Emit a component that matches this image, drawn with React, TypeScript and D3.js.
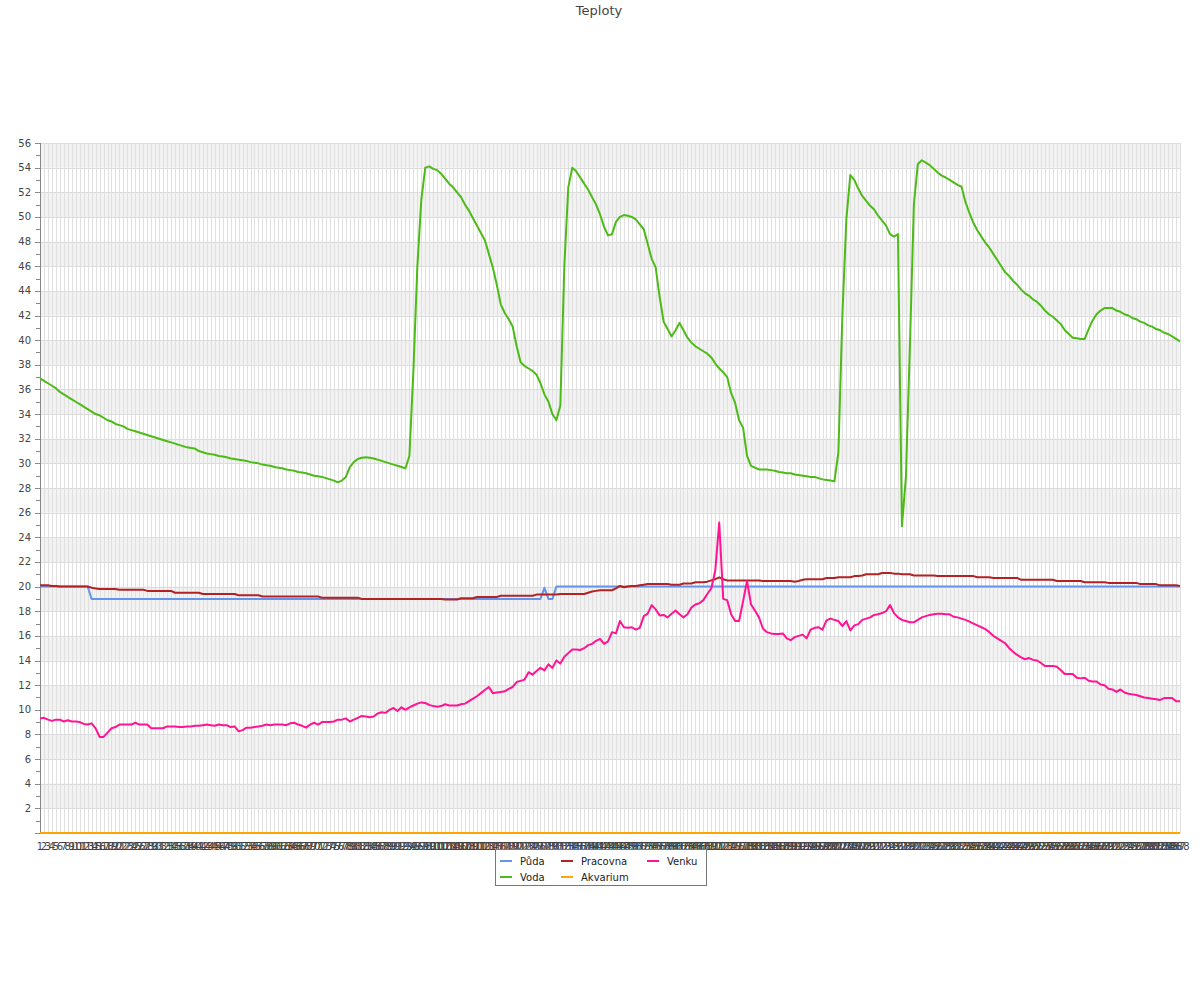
import React from 'react';
import * as d3 from 'd3';

const title = 'Teploty';
const seriesNames = ['Půda', 'Voda', 'Pracovna', 'Akvarium', 'Venku'];
const seriesColors = ['#6495ED', '#4CBB17', '#B22222', '#FFA500', '#FF1493'];
const categories = d3.range(1, 289).map(String);
const yTicks = d3.range(0, 57, 1);

const puda = [
  20, 20, 20, 20, 20, 20, 20, 20, 20, 20,
  20, 20, 20, 19, 19, 19, 19, 19, 19, 19,
  19, 19, 19, 19, 19, 19, 19, 19, 19, 19,
  19, 19, 19, 19, 19, 19, 19, 19, 19, 19,
  19, 19, 19, 19, 19, 19, 19, 19, 19, 19,
  19, 19, 19, 19, 19, 19, 19, 19, 19, 19,
  19, 19, 19, 19, 19, 19, 19, 19, 19, 19,
  19, 19, 19, 19, 19, 19, 19, 19, 19, 19,
  19, 19, 19, 19, 19, 19, 19, 19, 19, 19,
  19, 19, 19, 19, 19, 19, 19, 19, 19, 19,
  19, 19, 19, 19, 19, 19, 19, 19, 19, 19,
  19, 19, 19, 19, 19, 19, 19, 19, 19, 19,
  19, 19, 19, 19, 19, 19, 19, 19.9, 19, 19,
  20, 20, 20, 20, 20, 20, 20, 20, 20, 20,
  20, 20, 20, 20, 20, 20, 20, 20, 20, 20,
  20, 20, 20, 20, 20, 20, 20, 20, 20, 20,
  20, 20, 20, 20, 20, 20, 20, 20, 20, 20,
  20, 20, 20, 20, 20, 20, 20, 20, 20, 20,
  20, 20, 20, 20, 20, 20, 20, 20, 20, 20,
  20, 20, 20, 20, 20, 20, 20, 20, 20, 20,
  20, 20, 20, 20, 20, 20, 20, 20, 20, 20,
  20, 20, 20, 20, 20, 20, 20, 20, 20, 20,
  20, 20, 20, 20, 20, 20, 20, 20, 20, 20,
  20, 20, 20, 20, 20, 20, 20, 20, 20, 20,
  20, 20, 20, 20, 20, 20, 20, 20, 20, 20,
  20, 20, 20, 20, 20, 20, 20, 20, 20, 20,
  20, 20, 20, 20, 20, 20, 20, 20, 20, 20,
  20, 20, 20, 20, 20, 20, 20, 20, 20, 20,
  20, 20, 20, 20, 20, 20, 20, 20,
];

const voda = [
  36.9, 36.7, 36.5, 36.3, 36.1, 35.8, 35.6, 35.4, 35.2, 35.0,
  34.8, 34.6, 34.4, 34.2, 34.0, 33.9, 33.7, 33.5, 33.4, 33.2,
  33.1, 33.0, 32.8, 32.7, 32.6, 32.5, 32.4, 32.3, 32.2, 32.1,
  32.0, 31.9, 31.8, 31.7, 31.6, 31.5, 31.4, 31.3, 31.25, 31.2,
  31.0, 30.9, 30.8, 30.75, 30.7, 30.6, 30.55, 30.5, 30.4, 30.35,
  30.3, 30.25, 30.2, 30.1, 30.05, 30.0, 29.9, 29.85, 29.8, 29.7,
  29.65, 29.6, 29.5, 29.45, 29.4, 29.3, 29.25, 29.2, 29.1, 29.0,
  28.95, 28.9, 28.8, 28.7, 28.6, 28.45, 28.6, 28.9, 29.7, 30.1,
  30.35, 30.45, 30.5, 30.45, 30.4, 30.3, 30.2, 30.1, 30.0, 29.9,
  29.8, 29.7, 29.6, 30.6, 37.5, 46.0, 51.4, 54.0, 54.1, 53.9,
  53.8, 53.5, 53.1, 52.7, 52.4, 52.0, 51.6, 51.0, 50.5, 49.9,
  49.3, 48.7, 48.1, 47.0, 45.9, 44.5, 42.9, 42.2, 41.7, 41.1,
  39.5, 38.2, 37.9, 37.7, 37.5, 37.2, 36.5, 35.6, 35.0, 34.0,
  33.5, 34.7, 46.0, 52.4, 54.0, 53.7, 53.2, 52.7, 52.2, 51.6,
  51.0, 50.2, 49.2, 48.5, 48.6, 49.6, 50.0, 50.15, 50.1, 50.0,
  49.8, 49.4, 49.0, 47.8, 46.6, 45.9, 43.5, 41.5, 40.9, 40.3,
  40.8, 41.4, 40.8, 40.2, 39.8, 39.5, 39.3, 39.1, 38.9, 38.6,
  38.1, 37.7, 37.4, 37.0, 35.7, 34.9, 33.5, 32.9, 30.6, 29.8,
  29.65, 29.5, 29.5, 29.5, 29.45, 29.4, 29.3, 29.25, 29.2, 29.2,
  29.1, 29.05, 29.0, 28.95, 28.9, 28.9, 28.8, 28.7, 28.65, 28.6,
  28.55, 30.9, 42.0, 49.8, 53.4, 53.0, 52.3, 51.7, 51.3, 50.9,
  50.6, 50.1, 49.7, 49.3, 48.6, 48.4, 48.6, 24.9, 28.9, 39.5,
  51.0, 54.3, 54.6, 54.4, 54.2, 53.9, 53.6, 53.35, 53.2, 53.0,
  52.8, 52.6, 52.45, 51.2, 50.3, 49.5, 48.9, 48.4, 47.9, 47.5,
  47.0, 46.5, 46.0, 45.5, 45.2, 44.8, 44.5, 44.1, 43.8, 43.6,
  43.3, 43.1, 42.8, 42.4, 42.1, 41.9, 41.6, 41.3, 40.8, 40.5,
  40.2, 40.15, 40.1, 40.1, 40.9, 41.6, 42.1, 42.4, 42.6, 42.6,
  42.6, 42.4, 42.3, 42.1, 42.0, 41.8, 41.7, 41.5, 41.4, 41.2,
  41.1, 40.9, 40.8, 40.6, 40.5, 40.3, 40.1, 39.9,
];

const pracovna = [
  20.1, 20.1, 20.1, 20.05, 20.05, 20.0, 20.0, 20.0, 20.0, 20.0,
  20.0, 20.0, 20.0, 19.9, 19.85, 19.8, 19.8, 19.8, 19.8, 19.8,
  19.75, 19.75, 19.75, 19.75, 19.75, 19.75, 19.75, 19.65, 19.65, 19.65,
  19.65, 19.65, 19.65, 19.65, 19.5, 19.5, 19.5, 19.5, 19.5, 19.5,
  19.5, 19.4, 19.4, 19.4, 19.4, 19.4, 19.4, 19.4, 19.4, 19.4,
  19.3, 19.3, 19.3, 19.3, 19.3, 19.3, 19.2, 19.2, 19.2, 19.2,
  19.2, 19.2, 19.2, 19.2, 19.2, 19.2, 19.2, 19.2, 19.2, 19.2,
  19.2, 19.1, 19.1, 19.1, 19.1, 19.1, 19.1, 19.1, 19.1, 19.1,
  19.1, 19.0, 19.0, 19.0, 19.0, 19.0, 19.0, 19.0, 19.0, 19.0,
  19.0, 19.0, 19.0, 19.0, 19.0, 19.0, 19.0, 19.0, 19.0, 19.0,
  19.0, 19.0, 18.95, 18.95, 18.95, 18.95, 19.05, 19.05, 19.05, 19.05,
  19.15, 19.15, 19.15, 19.15, 19.15, 19.15, 19.25, 19.25, 19.25, 19.25,
  19.25, 19.25, 19.25, 19.25, 19.25, 19.35, 19.35, 19.35, 19.35, 19.35,
  19.35, 19.4, 19.4, 19.4, 19.4, 19.4, 19.4, 19.4, 19.5, 19.6,
  19.65, 19.7, 19.7, 19.7, 19.7, 19.85, 20.05, 19.95, 20.0, 20.05,
  20.05, 20.1, 20.15, 20.2, 20.2, 20.2, 20.2, 20.2, 20.2, 20.15,
  20.15, 20.15, 20.25, 20.25, 20.25, 20.35, 20.35, 20.35, 20.4, 20.5,
  20.6, 20.75, 20.6, 20.5, 20.5, 20.5, 20.5, 20.5, 20.5, 20.5,
  20.5, 20.5, 20.45, 20.45, 20.45, 20.45, 20.45, 20.45, 20.45, 20.45,
  20.4, 20.45, 20.55, 20.6, 20.6, 20.6, 20.6, 20.6, 20.7, 20.7,
  20.7, 20.75, 20.75, 20.75, 20.75, 20.85, 20.85, 20.9, 21.0, 21.0,
  21.0, 21.0, 21.1, 21.1, 21.1, 21.05, 21.05, 21.0, 21.0, 21.0,
  20.9, 20.9, 20.9, 20.9, 20.9, 20.9, 20.85, 20.85, 20.85, 20.85,
  20.85, 20.85, 20.85, 20.85, 20.85, 20.85, 20.75, 20.75, 20.75, 20.75,
  20.7, 20.7, 20.7, 20.7, 20.7, 20.7, 20.7, 20.55, 20.55, 20.55,
  20.55, 20.55, 20.55, 20.55, 20.55, 20.55, 20.45, 20.45, 20.45, 20.45,
  20.45, 20.45, 20.45, 20.35, 20.35, 20.35, 20.35, 20.35, 20.35, 20.3,
  20.3, 20.3, 20.3, 20.3, 20.3, 20.3, 20.3, 20.2, 20.2, 20.2,
  20.2, 20.2, 20.1, 20.1, 20.1, 20.1, 20.1, 20.05,
];

const akvarium = [
  0, 0, 0, 0, 0, 0, 0, 0, 0, 0, 0, 0, 0, 0, 0, 0, 0, 0, 0, 0, 0, 0, 0, 0,
  0, 0, 0, 0, 0, 0, 0, 0, 0, 0, 0, 0, 0, 0, 0, 0, 0, 0, 0, 0, 0, 0, 0, 0,
  0, 0, 0, 0, 0, 0, 0, 0, 0, 0, 0, 0, 0, 0, 0, 0, 0, 0, 0, 0, 0, 0, 0, 0,
  0, 0, 0, 0, 0, 0, 0, 0, 0, 0, 0, 0, 0, 0, 0, 0, 0, 0, 0, 0, 0, 0, 0, 0,
  0, 0, 0, 0, 0, 0, 0, 0, 0, 0, 0, 0, 0, 0, 0, 0, 0, 0, 0, 0, 0, 0, 0, 0,
  0, 0, 0, 0, 0, 0, 0, 0, 0, 0, 0, 0, 0, 0, 0, 0, 0, 0, 0, 0, 0, 0, 0, 0,
  0, 0, 0, 0, 0, 0, 0, 0, 0, 0, 0, 0, 0, 0, 0, 0, 0, 0, 0, 0, 0, 0, 0, 0,
  0, 0, 0, 0, 0, 0, 0, 0, 0, 0, 0, 0, 0, 0, 0, 0, 0, 0, 0, 0, 0, 0, 0, 0,
  0, 0, 0, 0, 0, 0, 0, 0, 0, 0, 0, 0, 0, 0, 0, 0, 0, 0, 0, 0, 0, 0, 0, 0,
  0, 0, 0, 0, 0, 0, 0, 0, 0, 0, 0, 0, 0, 0, 0, 0, 0, 0, 0, 0, 0, 0, 0, 0,
  0, 0, 0, 0, 0, 0, 0, 0, 0, 0, 0, 0, 0, 0, 0, 0, 0, 0, 0, 0, 0, 0, 0, 0,
  0, 0, 0, 0, 0, 0, 0, 0, 0, 0, 0, 0, 0, 0, 0, 0, 0, 0, 0, 0, 0, 0, 0, 0,
];

const venku = [
  9.3, 9.35, 9.2, 9.1, 9.2, 9.2, 9.05, 9.15, 9.05, 9.05,
  9.0, 8.85, 8.8, 8.9, 8.5, 7.8, 7.8, 8.15, 8.5, 8.6,
  8.8, 8.8, 8.8, 8.8, 8.95, 8.8, 8.8, 8.8, 8.5, 8.5,
  8.5, 8.5, 8.65, 8.65, 8.65, 8.6, 8.6, 8.65, 8.65, 8.7,
  8.7, 8.75, 8.8, 8.75, 8.7, 8.8, 8.75, 8.75, 8.6, 8.65,
  8.25, 8.35, 8.55, 8.55, 8.6, 8.65, 8.7, 8.8, 8.75, 8.8,
  8.8, 8.8, 8.75, 8.9, 8.95, 8.8, 8.7, 8.55, 8.8, 8.95,
  8.8, 9.0, 9.0, 9.0, 9.05, 9.2, 9.2, 9.3, 9.05, 9.2,
  9.35, 9.5, 9.45, 9.4, 9.45, 9.7, 9.8, 9.75, 10.0, 10.15,
  9.9, 10.2, 10.0, 10.2, 10.35, 10.5, 10.6, 10.55, 10.4, 10.3,
  10.25, 10.3, 10.45, 10.35, 10.35, 10.35, 10.45, 10.5, 10.7, 10.9,
  11.1, 11.35, 11.6, 11.85, 11.35, 11.4, 11.45, 11.5, 11.7, 11.85,
  12.25, 12.35, 12.45, 13.05, 12.85, 13.15, 13.4, 13.2, 13.7, 13.4,
  14.0, 13.75, 14.3, 14.6, 14.9, 14.9, 14.85, 15.0, 15.25, 15.35,
  15.6, 15.75, 15.35, 15.55, 16.3, 16.2, 17.2, 16.7, 16.65, 16.7,
  16.5, 16.65, 17.6, 17.8, 18.5, 18.15, 17.65, 17.7, 17.5, 17.8,
  18.05, 17.75, 17.5, 17.75, 18.3, 18.55, 18.65, 18.9, 19.4, 19.85,
  21.3, 25.2, 19.0, 18.9, 17.75, 17.2, 17.2, 18.8, 20.45, 18.55,
  18.05, 17.5, 16.6, 16.3, 16.2, 16.15, 16.15, 16.2, 15.8, 15.65,
  15.9, 16.0, 16.1, 15.8, 16.5, 16.65, 16.7, 16.5, 17.25, 17.4,
  17.3, 17.2, 16.8, 17.2, 16.45, 16.85, 16.95, 17.3, 17.4, 17.5,
  17.7, 17.75, 17.85, 18.0, 18.5, 17.85, 17.5, 17.3, 17.2, 17.1,
  17.1, 17.3, 17.5, 17.6, 17.7, 17.75, 17.8, 17.8, 17.75, 17.75,
  17.55, 17.5, 17.4, 17.3, 17.15, 17.0, 16.85, 16.7, 16.55, 16.3,
  16.0, 15.8, 15.6, 15.4, 15.0, 14.7, 14.45, 14.25, 14.1, 14.2,
  14.05, 14.0, 13.8, 13.55, 13.55, 13.55, 13.5, 13.2, 12.9, 12.9,
  12.9, 12.6, 12.55, 12.6, 12.35, 12.3, 12.3, 12.05, 12.0, 11.7,
  11.65, 11.45, 11.65, 11.4, 11.3, 11.25, 11.2, 11.1, 11.0, 10.95,
  10.9, 10.85, 10.8, 10.95, 10.95, 10.95, 10.7, 10.7,
];

const seriesValues = [puda, voda, pracovna, akvarium, venku];

const FONT = 'DejaVu Sans, Verdana, sans-serif';
const PLOT = { left: 40, right: 1180, top: 143, bottom: 833 };

export default function App() {
  const x = d3.scalePoint<string>().domain(categories).range([PLOT.left, PLOT.right]);
  const y = d3.scaleLinear().domain([0, 56]).range([PLOT.bottom, PLOT.top]);

  const majorTicks = yTicks.filter((t) => t % 2 === 0);
  const minorTicks = yTicks.filter((t) => t % 2 === 1);
  const bands = majorTicks.filter((t) => t < 56 && (t / 2) % 2 === 1);

  const line = d3
    .line<number>()
    .x((_, i) => x(categories[i]) as number)
    .y((d) => y(d));

  const legendItems = [
    { idx: 0, lx: 500, ly: 861 },
    { idx: 1, lx: 500, ly: 877 },
    { idx: 2, lx: 561, ly: 861 },
    { idx: 3, lx: 561, ly: 877 },
    { idx: 4, lx: 647, ly: 861 },
  ];

  return (
    <svg
      width={1200}
      height={1000}
      style={{ position: 'absolute', left: 0, top: 0, display: 'block', background: '#fff' }}
      fontFamily={FONT}
    >
      <text x={599} y={15} textAnchor="middle" fontSize={13} fill="#444">
        {title}
      </text>

      {bands.map((t) => (
        <rect
          key={'b' + t}
          x={PLOT.left}
          y={y(t + 2)}
          width={PLOT.right - PLOT.left}
          height={y(t) - y(t + 2)}
          fill="#f2f2f2"
        />
      ))}

      <g shapeRendering="crispEdges">
        {categories.map((c) => (
          <line
            key={'v' + c}
            x1={Math.round(x(c) as number) + 0.5}
            x2={Math.round(x(c) as number) + 0.5}
            y1={PLOT.top}
            y2={PLOT.bottom}
            stroke="#e0e0e0"
            strokeWidth={1}
          />
        ))}
        {majorTicks.map((t) => (
          <line
            key={'h' + t}
            x1={PLOT.left}
            x2={PLOT.right}
            y1={Math.round(y(t)) + 0.5}
            y2={Math.round(y(t)) + 0.5}
            stroke="#dcdcdc"
            strokeWidth={1}
          />
        ))}
        <line x1={PLOT.left + 0.5} x2={PLOT.left + 0.5} y1={PLOT.top} y2={PLOT.bottom} stroke="#888" />
        <line x1={PLOT.left} x2={PLOT.right} y1={PLOT.bottom + 0.5} y2={PLOT.bottom + 0.5} stroke="#888" />
        {majorTicks.map((t) => (
          <line
            key={'mt' + t}
            x1={PLOT.left - 5}
            x2={PLOT.left}
            y1={Math.round(y(t)) + 0.5}
            y2={Math.round(y(t)) + 0.5}
            stroke="#888"
          />
        ))}
        {minorTicks.map((t) => (
          <line
            key={'nt' + t}
            x1={PLOT.left - 4}
            x2={PLOT.left}
            y1={Math.round(y(t)) + 0.5}
            y2={Math.round(y(t)) + 0.5}
            stroke="#888"
          />
        ))}
      </g>

      {majorTicks
        .filter((t) => t > 0)
        .map((t) => (
          <text key={'yl' + t} x={31} y={y(t)} dy="0.35em" textAnchor="end" fontSize={10} fill="#444">
            {t}
          </text>
        ))}

      {categories.map((c) => (
        <text key={'xl' + c} x={x(c)} y={849.5} textAnchor="middle" fontSize={10} fill="#444">
          {c}
        </text>
      ))}

      {seriesValues.map((vals, si) => (
        <path
          key={'s' + si}
          d={line(vals) || ''}
          fill="none"
          stroke={seriesColors[si]}
          strokeWidth={2}
          strokeLinejoin="round"
        />
      ))}

      <rect x={495.5} y={849.5} width={211} height={36} fill="#fff" stroke="#777" />
      {legendItems.map((it) => (
        <g key={'lg' + it.idx}>
          <line
            x1={it.lx}
            x2={it.lx + 12}
            y1={it.ly}
            y2={it.ly}
            stroke={seriesColors[it.idx]}
            strokeWidth={2}
          />
          <text x={it.lx + 20} y={it.ly} dy="0.35em" fontSize={10} fill="#222">
            {seriesNames[it.idx]}
          </text>
        </g>
      ))}
    </svg>
  );
}
